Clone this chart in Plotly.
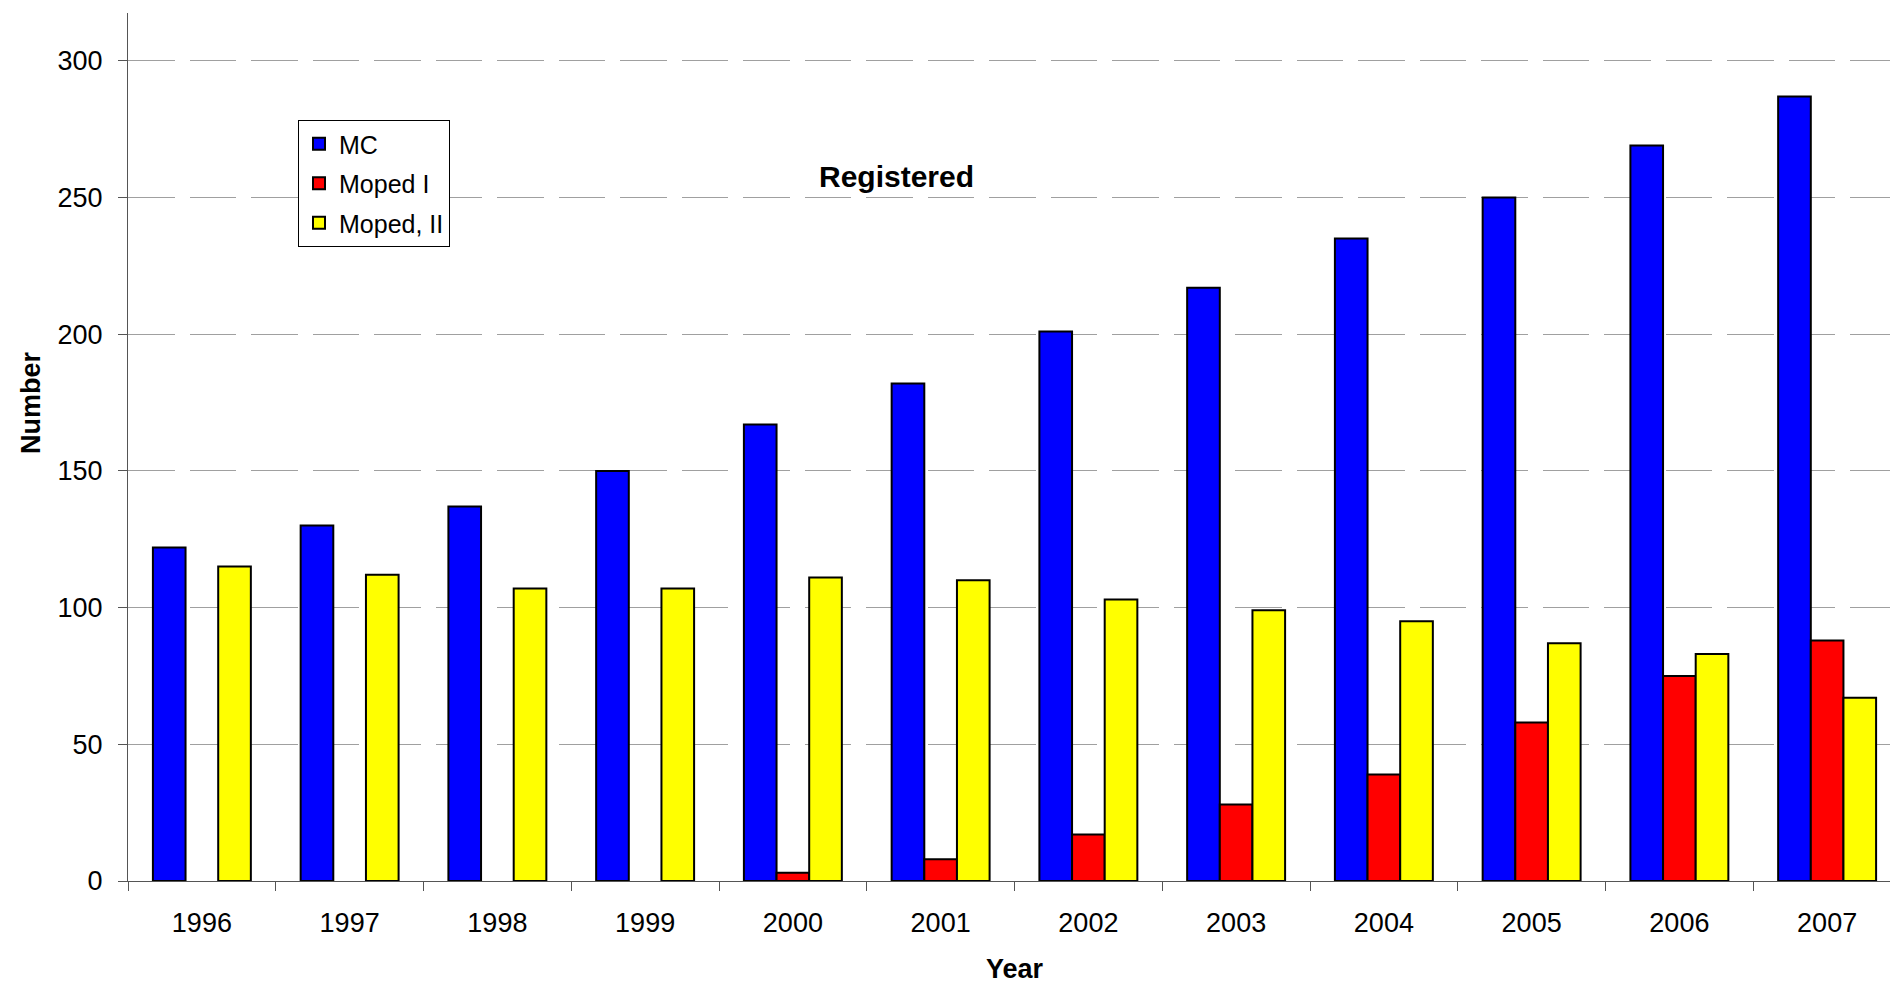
import plotly.graph_objects as go

# Registered vehicles per year
years = ["1996", "1997", "1998", "1999", "2000", "2001",
         "2002", "2003", "2004", "2005", "2006", "2007"]
mc = [122, 130, 137, 150, 167, 182, 201, 217, 235, 250, 269, 287]
moped_1 = [None, None, None, None, 3, 8, 17, 28, 39, 58, 75, 88]
moped_2 = [115, 112, 107, 107, 111, 110, 103, 99, 95, 87, 83, 67]

series = [
    ("MC", mc, "#0000FF"),
    ("Moped I", moped_1, "#FF0000"),
    ("Moped, II", moped_2, "#FFFF00"),
]

FONT = "Liberation Sans, Arial, sans-serif"

fig = go.Figure()
for name, vals, color in series:
    fig.add_trace(go.Bar(
        x=years, y=vals, name=name, legendgroup=name,
        marker=dict(color=color, line=dict(color="black", width=2)),
    ))

W, H = 1890, 985
L, R, T, B = 128, 0, 13, 104
plot_w = W - L - R
cat_w = 147.75

fig.update_layout(
    width=W, height=H,
    margin=dict(l=L, r=R, t=T, b=B, pad=0),
    paper_bgcolor="white", plot_bgcolor="white",
    font=dict(family=FONT, color="black", size=27),
    barmode="group", bargap=0.337, bargroupgap=0,
    showlegend=True,
    legend=dict(
        x=(298 - L) / plot_w, y=(881 - 120) / (881 - T),
        xanchor="left", yanchor="top",
        bgcolor="white", bordercolor="black", borderwidth=1,
        font=dict(size=25, family=FONT),
        itemwidth=30, tracegroupgap=4,
    ),
    xaxis=dict(
        type="category",
        range=[-0.5, -0.5 + plot_w / cat_w],
        showline=True, linecolor="#555555", linewidth=1,
        ticks="outside", ticklen=9, tickcolor="#555555",
        tickson="boundaries",
        showgrid=False, zeroline=False,
        tickfont=dict(size=27, family=FONT),
        ticklabelstandoff=18,
    ),
    yaxis=dict(
        range=[0, 317.5],
        tickvals=[0, 50, 100, 150, 200, 250, 300],
        showline=True, linecolor="#555555", linewidth=1,
        ticks="outside", ticklen=9, tickcolor="#555555",
        showgrid=True, gridcolor="#a0a0a0", gridwidth=1,
        griddash="46.5px,15px",
        zeroline=False,
        tickfont=dict(size=27, family=FONT),
        ticklabelstandoff=10,
    ),
    annotations=[
        dict(text="<b>Registered</b>", xref="paper", yref="paper",
             x=(896 - L) / plot_w, y=(881 - 176.5) / (881 - T),
             xanchor="center", yanchor="middle", showarrow=False,
             font=dict(size=30, family=FONT)),
        dict(text="<b>Year</b>", xref="paper", yref="paper",
             x=(1015 - L) / plot_w, y=(881 - 969) / (881 - T),
             xanchor="center", yanchor="middle", showarrow=False,
             font=dict(size=27, family=FONT)),
        dict(text="<b>Number</b>", xref="paper", yref="paper",
             x=(31 - L) / plot_w, y=(881 - 403) / (881 - T),
             xanchor="center", yanchor="middle", showarrow=False,
             textangle=-90,
             font=dict(size=27, family=FONT)),
    ],
)

fig.write_html("out.html")
